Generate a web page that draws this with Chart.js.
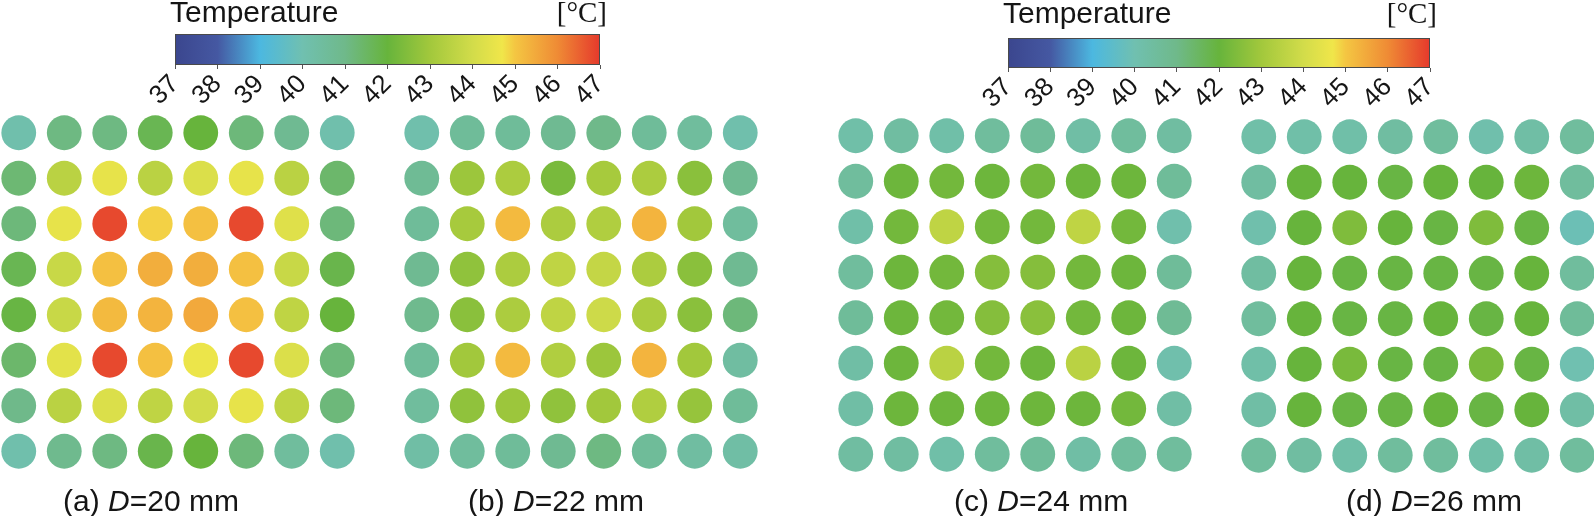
<!DOCTYPE html>
<html>
<head>
<meta charset="utf-8">
<title>Temperature maps</title>
<script src="https://cdn.jsdelivr.net/npm/chart.js@4.4.1/dist/chart.umd.min.js"></script>
<style>
  html, body { margin: 0; padding: 0; background: #fff; }
  #page { position: relative; width: 1594px; height: 516px; overflow: hidden; }
  canvas { position: absolute; }
  .cap {
    position: absolute; top: 486px;
    font-family: 'Liberation Sans', Arial, sans-serif;
    font-size: 30px; line-height: 30px; color: #151515; white-space: nowrap;
  }
</style>
</head>
<body>
<div id="page">
  <canvas id="cbar1" width="510" height="120" style="left:130px;top:0px"></canvas>
  <canvas id="cbar2" width="507" height="123" style="left:963px;top:0px"></canvas>

  <canvas id="dotsA" width="364" height="364" style="left:-4px;top:110px"></canvas>
  <canvas id="dotsB" width="364" height="364" style="left:399px;top:110px"></canvas>
  <canvas id="dotsC" width="364" height="364" style="left:833px;top:113px"></canvas>
  <canvas id="dotsD" width="364" height="364" style="left:1236px;top:114px"></canvas>

  <div class="cap" style="left:63px">(a) <i>D</i>=20 mm</div>
  <div class="cap" style="left:468px">(b) <i>D</i>=22 mm</div>
  <div class="cap" style="left:954px">(c) <i>D</i>=24 mm</div>
  <div class="cap" style="left:1346px">(d) <i>D</i>=26 mm</div>
</div>

<script>
// colour scale
const scaleTemps  = [37, 38, 39, 40, 41, 42, 43, 44, 44.7, 45, 46, 47];
const scaleColors = ['#3b468e', '#4558a2', '#4cb8e0', '#70c0b0', '#6fb98a', '#67b43c',
                     '#a2c83c', '#d2dc4a', '#f0e64a', '#f4c642', '#ef8b35', '#e5392c'];
const tickValues  = [37, 38, 39, 40, 41, 42, 43, 44, 45, 46, 47];

// temperature of every dot, one row per line, top row first (°C)
const tempD20 = [
  [40.1, 41.1, 41.1, 41.7, 42.0, 41.2, 40.8, 40.1],
  [41.3, 43.5, 44.5, 43.5, 44.2, 44.5, 43.5, 41.4],
  [41.2, 44.5, 46.8, 44.9, 45.1, 46.8, 44.3, 41.2],
  [41.7, 43.8, 45.1, 45.4, 45.4, 45.1, 43.8, 41.8],
  [41.9, 43.8, 45.2, 45.3, 45.5, 45.1, 43.6, 42.0],
  [41.4, 44.4, 46.8, 45.1, 44.6, 46.8, 44.2, 41.2],
  [41.0, 43.5, 44.2, 43.6, 44.0, 44.5, 43.6, 41.2],
  [40.1, 40.9, 41.1, 41.8, 42.0, 41.2, 40.5, 40.1]
];
const tempD22 = [
  [40.1, 40.6, 40.6, 40.8, 41.0, 40.6, 40.5, 40.1],
  [40.7, 42.9, 43.2, 42.3, 43.1, 43.2, 42.6, 40.8],
  [40.6, 43.1, 45.2, 43.2, 43.3, 45.3, 43.0, 40.5],
  [40.8, 42.7, 43.2, 43.6, 43.7, 43.2, 42.6, 40.8],
  [40.9, 42.6, 43.2, 43.6, 43.9, 43.2, 42.6, 41.2],
  [40.6, 43.0, 45.2, 43.3, 42.9, 45.3, 43.0, 40.4],
  [40.5, 42.7, 42.9, 42.7, 43.0, 43.3, 42.8, 40.6],
  [40.3, 40.5, 40.6, 40.8, 41.1, 40.6, 40.4, 40.3]
];
const tempD24 = [
  [40.2, 40.4, 40.2, 40.5, 40.6, 40.3, 40.5, 40.4],
  [40.5, 42.1, 42.2, 42.1, 42.2, 42.1, 42.1, 40.6],
  [40.2, 42.2, 43.6, 42.2, 42.2, 43.6, 42.2, 40.1],
  [40.5, 42.1, 42.2, 42.5, 42.5, 42.2, 42.1, 40.6],
  [40.6, 42.1, 42.2, 42.5, 42.6, 42.2, 42.1, 40.7],
  [40.3, 42.1, 43.5, 42.2, 42.1, 43.5, 42.1, 40.1],
  [40.3, 42.1, 42.1, 42.1, 42.1, 42.1, 42.2, 40.3],
  [40.4, 40.4, 40.2, 40.5, 40.6, 40.3, 40.5, 40.5]
];
const tempD26 = [
  [40.2, 40.2, 40.2, 40.4, 40.5, 40.1, 40.3, 40.5],
  [40.4, 42.0, 42.0, 41.9, 42.0, 42.0, 42.1, 40.5],
  [40.1, 42.0, 42.4, 42.0, 41.9, 42.4, 41.9, 39.9],
  [40.4, 42.0, 41.9, 41.9, 41.9, 41.9, 42.0, 40.5],
  [40.5, 42.0, 41.9, 41.9, 42.0, 41.9, 42.0, 40.6],
  [40.2, 42.0, 42.3, 41.9, 41.9, 42.3, 41.9, 40.0],
  [40.3, 42.0, 41.9, 41.9, 42.0, 41.9, 42.0, 40.3],
  [40.5, 40.4, 40.2, 40.5, 40.5, 40.2, 40.3, 40.5]
];

const FONT = "'Liberation Sans', Arial, sans-serif";

function hexRgb(h) {
  return [1, 3, 5].map(i => parseInt(h.substr(i, 2), 16));
}

// linear interpolation along the colour bar
function tempColor(t) {
  if (t <= scaleTemps[0]) return scaleColors[0];
  for (let i = 1; i < scaleTemps.length; i++) {
    if (t <= scaleTemps[i]) {
      const f = (t - scaleTemps[i - 1]) / (scaleTemps[i] - scaleTemps[i - 1]);
      const a = hexRgb(scaleColors[i - 1]), b = hexRgb(scaleColors[i]);
      const c = a.map((v, k) => Math.round(v + (b[k] - v) * f));
      return `rgb(${c[0]},${c[1]},${c[2]})`;
    }
  }
  return scaleColors[scaleColors.length - 1];
}

function dotChart(id, temps) {
  const pts = [];
  temps.forEach((row, r) => row.forEach((t, c) => pts.push({ x: c + 1, y: r + 1, t: t })));
  return new Chart(document.getElementById(id), {
    type: 'scatter',
    data: {
      datasets: [{
        data: pts,
        pointRadius: 17.4,
        pointHoverRadius: 17.4,
        pointBorderWidth: 0,
        pointBackgroundColor: pts.map(p => tempColor(p.t)),
        clip: false
      }]
    },
    options: {
      responsive: false,
      animation: false,
      devicePixelRatio: 1,
      events: [],
      layout: { padding: 0, autoPadding: false },
      scales: {
        x: { type: 'linear', min: 0.5, max: 8.5, display: false },
        y: { type: 'linear', min: 0.5, max: 8.5, reverse: true, display: false }
      },
      plugins: { legend: { display: false }, tooltip: { enabled: false } }
    }
  });
}

// gradient bar + its labels
const colorBarPlugin = {
  id: 'colorBar',
  beforeDraw(chart) {
    const { ctx, chartArea: a } = chart;
    const x = chart.scales.x;
    const x0 = x.getPixelForValue(scaleTemps[0]);
    const x1 = x.getPixelForValue(scaleTemps[scaleTemps.length - 1]);
    const g = ctx.createLinearGradient(x0, 0, x1, 0);
    scaleTemps.forEach((t, i) => {
      g.addColorStop((x.getPixelForValue(t) - x0) / (x1 - x0), scaleColors[i]);
    });
    ctx.save();
    ctx.fillStyle = g;
    ctx.fillRect(a.left, a.top, a.right - a.left, a.bottom - a.top);
    ctx.strokeStyle = '#4a4a4a';
    ctx.lineWidth = 1;
    ctx.strokeRect(a.left + 0.5, a.top + 0.5, a.right - a.left - 1, a.bottom - a.top - 1);
    ctx.restore();
  },
  afterDraw(chart, args, opts) {
    const { ctx, chartArea: a } = chart;
    ctx.save();
    ctx.fillStyle = '#151515';
    ctx.textBaseline = 'alphabetic';
    ctx.font = '30px ' + FONT;
    ctx.textAlign = 'left';
    ctx.fillText('Temperature', a.left - 5, opts.baseline);
    ctx.font = "29px 'Liberation Serif', 'Times New Roman', serif";
    ctx.textAlign = 'right';
    ctx.fillText('[°C]', a.right + 7, opts.baseline);
    ctx.restore();
  }
};

function colorBar(id, top, baseline) {
  return new Chart(document.getElementById(id), {
    type: 'scatter',
    data: { datasets: [] },
    options: {
      responsive: false,
      animation: false,
      devicePixelRatio: 1,
      events: [],
      layout: { padding: { left: 45, right: 40, top: top, bottom: 0 }, autoPadding: false },
      scales: {
        x: {
          type: 'linear',
          min: tickValues[0],
          max: tickValues[tickValues.length - 1],
          afterBuildTicks: s => { s.ticks = tickValues.map(v => ({ value: v })); },
          afterFit: s => { s.height = 55; },
          ticks: {
            minRotation: 45, maxRotation: 45, autoSkip: false, padding: 0,
            color: '#151515', font: { family: FONT, size: 26 }
          },
          grid: { drawOnChartArea: false, drawTicks: true, tickLength: 4, color: '#555' },
          border: { display: false }
        },
        y: { type: 'linear', min: 0, max: 1, display: false }
      },
      plugins: {
        legend: { display: false },
        tooltip: { enabled: false },
        colorBar: { baseline: baseline }
      }
    },
    plugins: [colorBarPlugin]
  });
}

colorBar('cbar1', 34, 22);
colorBar('cbar2', 38, 23);
dotChart('dotsA', tempD20);
dotChart('dotsB', tempD22);
dotChart('dotsC', tempD24);
dotChart('dotsD', tempD26);
</script>
</body>
</html>
